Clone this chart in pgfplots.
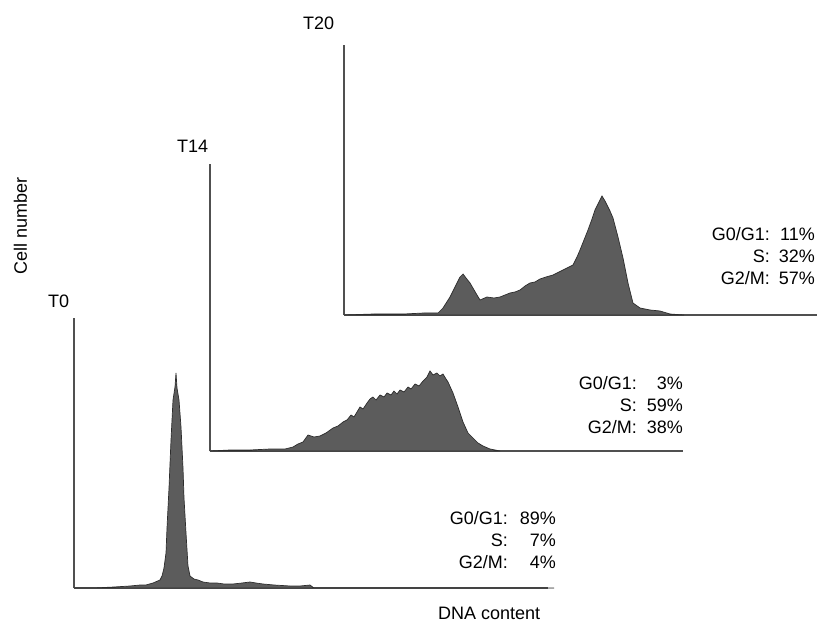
\documentclass[border=0pt]{standalone}
\usepackage{pgfplots}
\pgfplotsset{compat=1.18}
\usepackage{fontspec}
\setmainfont{Liberation Sans}

\definecolor{histfill}{RGB}{92,92,92}
\definecolor{histedge}{RGB}{45,45,45}
\definecolor{axline}{RGB}{80,80,80}

\pgfplotsset{
  histo/.style={
    scale only axis,
    anchor=origin,
    xmin=0, ymin=0,
    axis x line=bottom, axis y line=left,
    axis line style={-, line width=2.2pt, color=axline},
    xtick=\empty, ytick=\empty,
    clip=false,
  },
  histplot/.style={fill=histfill, draw=histedge, line width=0.7pt},
}

\begin{document}
\begin{tikzpicture}[x=1pt,y=1pt]
\fontsize{18}{21}\selectfont

% T0: origin at (74,37)
\begin{axis}[histo, at={(74pt,37pt)}, width=474pt, height=270pt, xmax=474, ymax=270]
\addplot[histplot] coordinates {
(0,0)(20,0)(40,1)(56,2)(66,3)(72,3)(79,5)(86,8)(88,12)(90,20)(92,35)(93,60)(95,100)
(97,148)(99,188)(101,201)(102,215)(103,200)(105,188)(107,161)(109,120)(110,90)
(112,55)(114,22)(116,12)(120,9)(124,8)(129,6)(136,5)(143,5)(150,4)(159,4)(168,5)(176,6)
(182,5)(189,4)(200,3)(216,2)(226,2)(236,3)(240,0)(480,0)
} \closedcycle;
\end{axis}

% T14: origin at (210,174)
\begin{axis}[histo, at={(210pt,174pt)}, width=473pt, height=287pt, xmax=473, ymax=287]
\addplot[histplot] coordinates {
(0,0)(20,1)(40,1)(60,2)(75,2)(83,4)(88,7)(93,9)(98,16)(104,14)(110,15)(116,18)
(123,23)(128,25)(133,29)(137,31)(141,36)(144,34)(147,39)(150,44)(153,42)(157,48)
(160,52)(163,54)(166,51)(170,56)(174,54)(177,58)(181,56)(184,60)(187,57)(190,61)
(194,59)(198,64)(201,62)(205,67)(209,65)(213,70)(217,74)(220,80)(223,76)(227,78)
(230,75)(233,77)(236,72)(238,69)(243,58)(248,44)(253,29)(258,18)(263,13)(268,8)
(273,5)(280,2)(290,0)
} \closedcycle;
\end{axis}

% T20: origin at (344,310)
\begin{axis}[histo, at={(344pt,310pt)}, width=473pt, height=270pt, xmax=473, ymax=270]
\addplot[histplot] coordinates {
(0,0)(30,1)(60,1)(80,2)(94,2)(99,7)(106,18)(113,32)(116,38)(119,41)(122,37)(126,32)
(133,20)(136,15)(143,18)(150,17)(156,18)(161,20)(166,22)(171,23)(176,25)(181,29)
(186,32)(191,33)(196,36)(202,38)(209,40)(219,45)(229,50)(233,58)(236,65)(240,75)
(244,85)(248,96)(251,105)(255,113)(258,119)(261,114)(263,110)(266,104)(269,97)
(274,78)(279,57)(284,32)(289,12)(296,7)(306,5)(316,4)(326,1)(340,0)
} \closedcycle;
\end{axis}

% panel labels
\node[anchor=base west, inner sep=0pt] at (48,317) {T0};
\node[anchor=base west, inner sep=0pt] at (177,472) {T14};
\node[anchor=base west, inner sep=0pt] at (303,595) {T20};

% axis titles
\node[anchor=base west, inner sep=0pt] at (438,6) {DNA content};
\node[anchor=base west, inner sep=0pt, rotate=90] at (27,350) {Cell number};

% T0 percentages
\node[anchor=base east, inner sep=0pt] at (508,101) {G0/G1:};
\node[anchor=base east, inner sep=0pt] at (556,101) {89\%};
\node[anchor=base east, inner sep=0pt] at (508,79) {S:};
\node[anchor=base east, inner sep=0pt] at (556,79) {7\%};
\node[anchor=base east, inner sep=0pt] at (508,57) {G2/M:};
\node[anchor=base east, inner sep=0pt] at (556,57) {4\%};

% T14 percentages
\node[anchor=base east, inner sep=0pt] at (637,236) {G0/G1:};
\node[anchor=base east, inner sep=0pt] at (683,236) {3\%};
\node[anchor=base east, inner sep=0pt] at (637,214) {S:};
\node[anchor=base east, inner sep=0pt] at (683,214) {59\%};
\node[anchor=base east, inner sep=0pt] at (637,192) {G2/M:};
\node[anchor=base east, inner sep=0pt] at (683,192) {38\%};

% T20 percentages
\node[anchor=base east, inner sep=0pt] at (770,384) {G0/G1:};
\node[anchor=base east, inner sep=0pt] at (815,384) {11\%};
\node[anchor=base east, inner sep=0pt] at (770,362) {S:};
\node[anchor=base east, inner sep=0pt] at (815,362) {32\%};
\node[anchor=base east, inner sep=0pt] at (770,341) {G2/M:};
\node[anchor=base east, inner sep=0pt] at (815,341) {57\%};

\pgfresetboundingbox
\path (0,0) rectangle (817,625);
\end{tikzpicture}
\end{document}
